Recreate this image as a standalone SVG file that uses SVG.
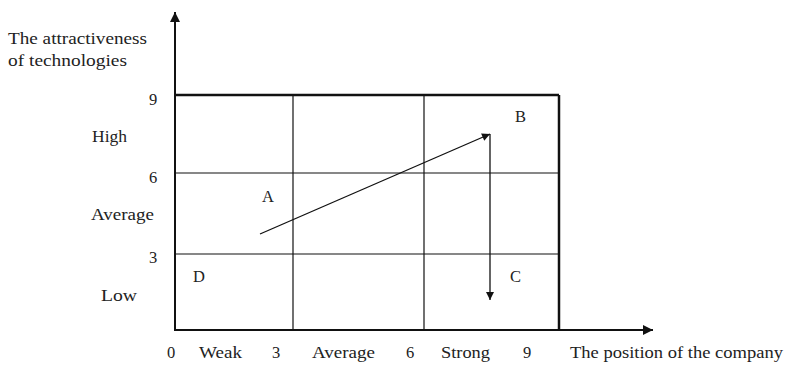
<svg xmlns="http://www.w3.org/2000/svg" width="788" height="365" viewBox="0 0 788 365">
<style>
text{font-size:16.5px;fill:#222}
.grid{stroke:#111;stroke-width:1.2;fill:none}
.thick{stroke:#111;stroke-width:2.5;fill:none}
.ax{stroke:#111;stroke-width:2;fill:none}
.arr{stroke:#111;stroke-width:1.3;fill:none}
</style>
<defs>
<marker id="ah" viewBox="0 0 10 10" refX="10" refY="5" markerWidth="10" markerHeight="8" markerUnits="userSpaceOnUse" orient="auto"><path d="M0,0 L10,5 L0,10 z" fill="#111"/></marker>
<marker id="axh" viewBox="0 0 10 10" refX="10" refY="5" markerWidth="12" markerHeight="10" markerUnits="userSpaceOnUse" orient="auto"><path d="M0,0 L10,5 L0,10 z" fill="#111"/></marker>
</defs>
<g id="connectors">
<line class="grid" x1="293" y1="95" x2="293" y2="330"/>
<line class="grid" x1="424" y1="95" x2="424" y2="330"/>
<line class="grid" x1="175" y1="173" x2="559" y2="173"/>
<line class="grid" x1="175" y1="254" x2="559" y2="254"/>
<line class="thick" x1="175" y1="95" x2="559" y2="95"/>
<line class="thick" x1="559" y1="95" x2="559" y2="330"/>
<line class="ax" x1="175" y1="331" x2="175" y2="12" marker-end="url(#axh)"/>
<line class="ax" x1="174" y1="330" x2="653" y2="330" marker-end="url(#axh)"/>
<line class="arr" x1="260" y1="234" x2="490" y2="134" marker-end="url(#ah)"/>
<line class="arr" x1="490" y1="134" x2="490" y2="300" marker-end="url(#ah)"/>
</g>
<g font-family="'Liberation Serif', 'Times New Roman', Tinos, serif">
<g id="labels">
<text x="8" y="44" textLength="139" lengthAdjust="spacingAndGlyphs">The attractiveness</text>
<text x="8" y="66" textLength="119" lengthAdjust="spacingAndGlyphs">of technologies</text>
<text x="149" y="105">9</text>
<text x="149" y="183">6</text>
<text x="149" y="263">3</text>
<text x="92" y="142" textLength="35" lengthAdjust="spacingAndGlyphs">High</text>
<text x="91" y="220" textLength="63" lengthAdjust="spacingAndGlyphs">Average</text>
<text x="101" y="301" textLength="36" lengthAdjust="spacingAndGlyphs">Low</text>
</g>
<g id="A"><text x="262" y="202">A</text></g>
<g id="B"><text x="515" y="122">B</text></g>
<g id="C"><text x="510" y="282">C</text></g>
<g id="D"><text x="193" y="282">D</text></g>
<g id="xlabels">
<text x="167" y="358">0</text>
<text x="199" y="358" textLength="43" lengthAdjust="spacingAndGlyphs">Weak</text>
<text x="272" y="358">3</text>
<text x="312" y="358" textLength="63" lengthAdjust="spacingAndGlyphs">Average</text>
<text x="406" y="358">6</text>
<text x="441" y="358" textLength="49" lengthAdjust="spacingAndGlyphs">Strong</text>
<text x="523" y="358">9</text>
<text x="570" y="358" textLength="213" lengthAdjust="spacingAndGlyphs">The position of the company</text>
</g>
</g>
</svg>
